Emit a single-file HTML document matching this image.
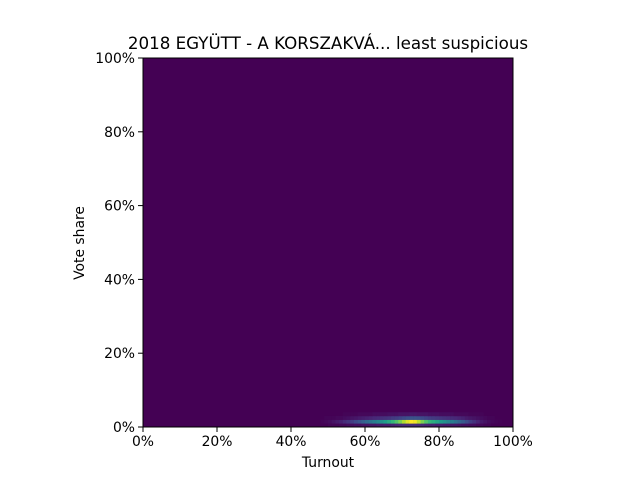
<!DOCTYPE html>
<html><head><meta charset="utf-8"><style>
body{margin:0;background:#fff;font-family:"Liberation Sans","DejaVu Sans",sans-serif}
svg text{font-family:"DejaVu Sans","Liberation Sans",sans-serif;font-size:13.9px;fill:#000}
</style></head><body>
<svg id="c" width="640" height="480">
<text x="328" y="49" text-anchor="middle" style="font-size:16.7px">2018 EGYÜTT - A KORSZAKVÁ... least suspicious</text>
<g id="cells"></g>
<g id="axes"></g>
<text x="328" y="467" text-anchor="middle">Turnout</text>
<text transform="translate(84,243) rotate(-90)" text-anchor="middle">Vote share</text>
</svg>
<script>
const startCol = 48;
const row0 = [0,0,0.01,0.01,0.01,0.02,0.02,0.03,0.03,0.04,0.04,0.05,0.05,0.06,0.06,0.07,0.07,0.08,0.08,0.09,0.1,0.11,0.12,0.12,0.13,0.13,0.12,0.11,0.1,0.09,0.09,0.08,0.08,0.07,0.07,0.06,0.06,0.05,0.04,0.04,0.03,0.03,0.02,0.02,0.01,0.01,0,0,0];
const row1 = [0.01,0.02,0.03,0.05,0.07,0.09,0.12,0.15,0.18,0.22,0.26,0.3,0.34,0.38,0.42,0.46,0.5,0.55,0.6,0.66,0.72,0.8,0.88,0.95,1.0,0.98,0.9,0.8,0.72,0.66,0.62,0.58,0.54,0.5,0.46,0.42,0.37,0.32,0.28,0.23,0.18,0.14,0.1,0.07,0.05,0.03,0.02,0.01,0.005];
const row2 = [0,0.01,0.01,0.01,0.02,0.02,0.03,0.04,0.05,0.06,0.07,0.08,0.09,0.1,0.11,0.12,0.13,0.14,0.15,0.17,0.18,0.2,0.22,0.24,0.25,0.25,0.24,0.22,0.2,0.18,0.17,0.16,0.15,0.14,0.13,0.12,0.11,0.1,0.09,0.07,0.06,0.05,0.04,0.03,0.02,0.01,0.01,0,0];
const row3 = [0,0,0,0,0,0,0.01,0.01,0.01,0.01,0.02,0.02,0.02,0.02,0.03,0.03,0.03,0.03,0.04,0.04,0.04,0.05,0.05,0.05,0.06,0.06,0.05,0.05,0.05,0.04,0.04,0.04,0.03,0.03,0.03,0.03,0.02,0.02,0.02,0.02,0.01,0.01,0.01,0.01,0,0,0,0,0];
const rows = [row0,row1,row2,row3];
const ticks = [0,20,40,60,80,100];
const tickLabels = ["0%","20%","40%","60%","80%","100%"];
const L=143,R=513,T=58,B=427;
const xs=v=>L+(R-L)*v/100, ys=v=>B-(B-T)*v/100;
const vir=[[68,1,84],[72,40,120],[62,74,137],[49,104,142],[38,130,142],[31,158,137],[53,183,121],[109,205,89],[180,222,44],[253,231,37]];
function cmap(t){t=Math.max(0,Math.min(1,t))*9;const i=Math.min(8,Math.floor(t)),f=t-i;const a=vir[i],b=vir[i+1];return `rgb(${a.map((v,k)=>Math.round(v+(b[k]-v)*f)).join(',')})`;}
const NS="http://www.w3.org/2000/svg";
const cells=document.getElementById('cells'),axes=document.getElementById('axes');
const bg=document.createElementNS(NS,'rect');
bg.setAttribute('x',L);bg.setAttribute('y',T);bg.setAttribute('width',R-L);bg.setAttribute('height',B-T);bg.setAttribute('fill',cmap(0));


cells.appendChild(bg);
rows.forEach((row,r)=>row.forEach((v,j)=>{
  if(v<=0)return;
  const c=startCol+j;
  const e=document.createElementNS(NS,'rect');
  e.setAttribute('x',xs(c));e.setAttribute('y',ys(r+1));
  e.setAttribute('width',xs(c+1)-xs(c)+0.3);e.setAttribute('height',ys(r)-ys(r+1)+0.3);
  e.setAttribute('fill',cmap(v));
  
  
  cells.appendChild(e);
}));
const fr=document.createElementNS(NS,'rect');
fr.setAttribute('x',L);fr.setAttribute('y',T);fr.setAttribute('width',R-L);fr.setAttribute('height',B-T);
fr.setAttribute('fill','none');fr.setAttribute('stroke','#000');fr.setAttribute('stroke-width','1');


axes.appendChild(fr);
ticks.forEach((t,i)=>{
  const lx=document.createElementNS(NS,'line');
  lx.setAttribute('x1',xs(t));lx.setAttribute('x2',xs(t));lx.setAttribute('y1',B);lx.setAttribute('y2',B+5);lx.setAttribute('stroke','#000');
  
  
  axes.appendChild(lx);
  const tx=document.createElementNS(NS,'text');
  tx.setAttribute('x',xs(t));tx.setAttribute('y',B+19);tx.setAttribute('text-anchor','middle');tx.textContent=tickLabels[i];
  
  
  axes.appendChild(tx);
  const ly=document.createElementNS(NS,'line');
  ly.setAttribute('x1',L-5);ly.setAttribute('x2',L);ly.setAttribute('y1',ys(t));ly.setAttribute('y2',ys(t));ly.setAttribute('stroke','#000');
  
  
  axes.appendChild(ly);
  const ty=document.createElementNS(NS,'text');
  ty.setAttribute('x',L-8);ty.setAttribute('y',ys(t)+5);ty.setAttribute('text-anchor','end');ty.textContent=tickLabels[i];
  
  
  axes.appendChild(ty);
});
</script>
</body></html>
